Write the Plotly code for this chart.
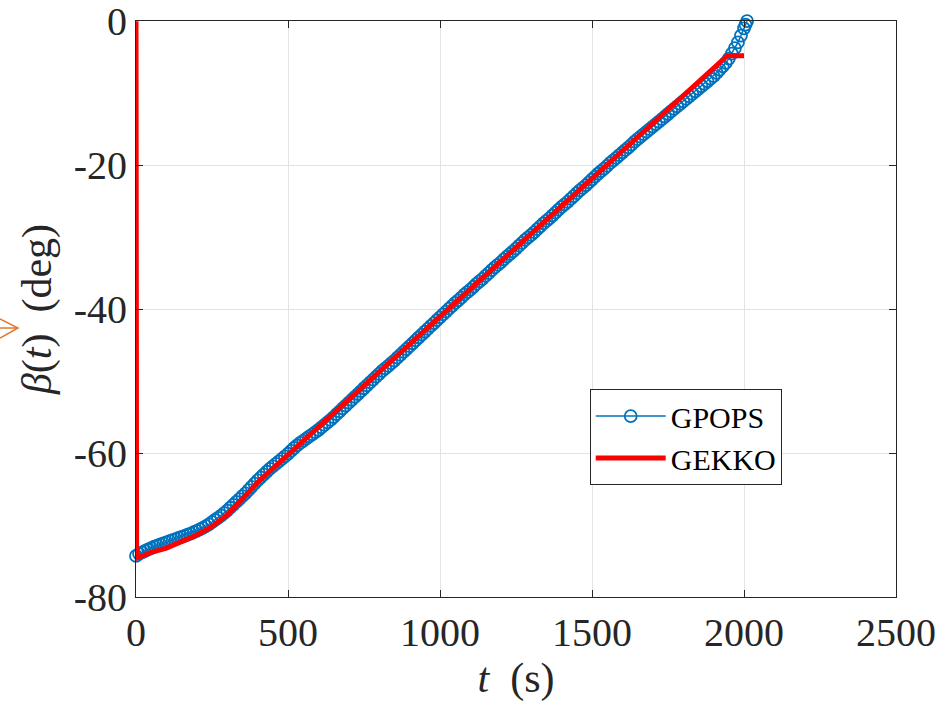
import plotly.graph_objects as go

# GPOPS solution
gpops_t = [0, 10, 20, 30, 40, 50, 60, 70, 80, 90,
           100, 110, 120, 130, 140, 150, 160, 170, 180, 190,
           200, 210, 220, 230, 240, 250, 260, 270, 280, 290,
           300, 310, 320, 330, 340, 350, 360, 370, 380, 390,
           400, 410, 420, 430, 440, 450, 460, 470, 480, 490,
           500, 510, 520, 530, 540, 550, 560, 570, 580, 590,
           600, 610, 620, 630, 640, 650, 660, 670, 680, 690,
           700, 710, 720, 730, 740, 750, 760, 770, 780, 790,
           800, 810, 820, 830, 840, 850, 860, 870, 880, 890,
           900, 910, 920, 930, 940, 950, 960, 970, 980, 990,
           1000, 1010, 1020, 1030, 1040, 1050, 1060, 1070, 1080, 1090,
           1100, 1110, 1120, 1130, 1140, 1150, 1160, 1170, 1180, 1190,
           1200, 1210, 1220, 1230, 1240, 1250, 1260, 1270, 1280, 1290,
           1300, 1310, 1320, 1330, 1340, 1350, 1360, 1370, 1380, 1390,
           1400, 1410, 1420, 1430, 1440, 1450, 1460, 1470, 1480, 1490,
           1500, 1510, 1520, 1530, 1540, 1550, 1560, 1570, 1580, 1590,
           1600, 1610, 1620, 1630, 1640, 1650, 1660, 1670, 1680, 1690,
           1700, 1710, 1720, 1730, 1740, 1750, 1760, 1770, 1780, 1790,
           1800, 1810, 1820, 1830, 1840, 1850, 1860, 1870, 1880, 1890,
           1900, 1910, 1920, 1930, 1940, 1950, 1960, 1970, 1980, 1990,
           2000, 2005, 2010]
gpops_beta = [-74.3, -74.0, -73.8, -73.6, -73.4, -73.2, -73.0, -72.85, -72.7, -72.55,
              -72.4, -72.25, -72.1, -71.95, -71.8, -71.65, -71.5, -71.35, -71.2, -71.0,
              -70.8, -70.6, -70.4, -70.15, -69.9, -69.6, -69.3, -69.0, -68.7, -68.35,
              -68.0, -67.6, -67.2, -66.8, -66.4, -66.0, -65.6, -65.15, -64.7, -64.25,
              -63.8, -63.4, -63.0, -62.6, -62.2, -61.85, -61.5, -61.15, -60.8, -60.45,
              -60.1, -59.7, -59.3, -58.95, -58.6, -58.3, -58.0, -57.7, -57.4, -57.1,
              -56.8, -56.45, -56.1, -55.75, -55.4, -55.0, -54.6, -54.2, -53.8, -53.4,
              -53.0, -52.6, -52.2, -51.8, -51.4, -51.0, -50.6, -50.2, -49.8, -49.4,
              -49.0, -48.6, -48.25, -47.9, -47.5, -47.15, -46.75, -46.35, -45.95, -45.55,
              -45.15, -44.75, -44.35, -43.95, -43.55, -43.15, -42.75, -42.35, -41.95, -41.55,
              -41.15, -40.75, -40.35, -39.95, -39.55, -39.15, -38.8, -38.4, -38.0, -37.65,
              -37.3, -36.9, -36.5, -36.15, -35.8, -35.4, -35.0, -34.6, -34.2, -33.85,
              -33.5, -33.1, -32.7, -32.35, -32.0, -31.6, -31.2, -30.8, -30.4, -30.05,
              -29.7, -29.3, -28.9, -28.5, -28.1, -27.75, -27.4, -27.0, -26.6, -26.2,
              -25.8, -25.45, -25.1, -24.7, -24.3, -23.9, -23.5, -23.15, -22.8, -22.4,
              -22.0, -21.6, -21.2, -20.85, -20.5, -20.1, -19.7, -19.35, -19.0, -18.6,
              -18.25, -17.9, -17.55, -17.15, -16.75, -16.4, -16.05, -15.7, -15.35, -15.0,
              -14.65, -14.3, -13.95, -13.6, -13.25, -12.9, -12.55, -12.2, -11.85, -11.5,
              -11.15, -10.8, -10.45, -10.1, -9.75, -9.4, -9.05, -8.7, -8.35, -8.0,
              -7.65, -7.2, -6.75, -6.3, -5.8, -5.2, -4.5, -3.75, -2.95, -2.0,
              -1.0, -0.5, 0.0]

# GEKKO solution
gekko_t = [0, 2, 20, 50, 100, 150, 200, 250, 300, 350, 408, 600, 800, 1000, 1200, 1400,
           1600, 1800, 1945, 2000]
gekko_beta = [0, -74.6, -74.3, -73.8, -73.2, -72.3, -71.4, -70.2, -68.6, -66.4, -63.75,
              -56.4, -48.7, -41.0, -33.4, -25.7, -18.0, -10.4, -4.8, -4.8]

x_ticks = [0, 500, 1000, 1500, 2000, 2500]
x_ticktext = ["0", "500", "1000", "1500", "2000", "2500"]
y_ticks = [-80, -60, -40, -20, 0]
y_ticktext = ["-80", "-60", "-40", "-20", "0"]

FONT = "Liberation Serif"
AX = "#262626"
ORANGE = "#E0782F"

fig = go.Figure()
fig.add_trace(go.Scatter(
    x=gpops_t, y=gpops_beta, mode="lines+markers", name="GPOPS",
    line=dict(color="#0072BD", width=1.5),
    marker=dict(symbol="circle-open", size=12, color="#0072BD", line=dict(width=1.8)),
    cliponaxis=False,
))
fig.add_trace(go.Scatter(
    x=gekko_t, y=gekko_beta, mode="lines", name="GEKKO",
    line=dict(color="#FF0000", width=5),
))

axis_common = dict(
    showline=True, linecolor=AX, linewidth=1, mirror="ticks",
    ticks="inside", ticklen=7, tickcolor=AX, tickwidth=1,
    showgrid=True, gridcolor="#E3E3E3", gridwidth=1, zeroline=False,
    tickfont=dict(family=FONT, size=40, color=AX),
    ticklabeloverflow="allow", automargin=False,
)

fig.update_layout(
    width=950, height=706,
    margin=dict(l=136, r=54, t=21, b=109),
    paper_bgcolor="white", plot_bgcolor="white",
    font=dict(family=FONT),
    xaxis=dict(range=[0, 2500], tickmode="array", tickvals=x_ticks, ticktext=x_ticktext,
               title=dict(text="<i>t</i>&nbsp; (s)", font=dict(family=FONT, size=42, color=AX), standoff=0),
               **axis_common),
    yaxis=dict(range=[-80, 0.02], tickmode="array", tickvals=y_ticks, ticktext=y_ticktext,
               title=dict(text="<i>β</i>(<i>t</i>)&nbsp; (deg)", font=dict(family=FONT, size=42, color=AX), standoff=8),
               **axis_common),
    legend=dict(x=0.597, y=0.361, xanchor="left", yanchor="top",
                bgcolor="white", bordercolor=AX, borderwidth=1,
                font=dict(family=FONT, size=30, color="black"),
                itemwidth=70, tracegroupgap=0),
    showlegend=True,
)

# small orange arrow glyph left of the y-axis title
def px_x(p):
    return (p - 136) / 760.0

def px_y(p):
    return (597 - p) / 576.0

fig.add_shape(type="line", xref="paper", yref="paper",
              x0=px_x(0), y0=px_y(328), x1=px_x(18), y1=px_y(328),
              line=dict(color=ORANGE, width=1.5))
fig.add_shape(type="path", xref="paper", yref="paper",
              path=f"M {px_x(0)},{px_y(319)} L {px_x(18)},{px_y(328)} L {px_x(0)},{px_y(338)}",
              line=dict(color=ORANGE, width=1.5))

fig.write_html("out.html")
